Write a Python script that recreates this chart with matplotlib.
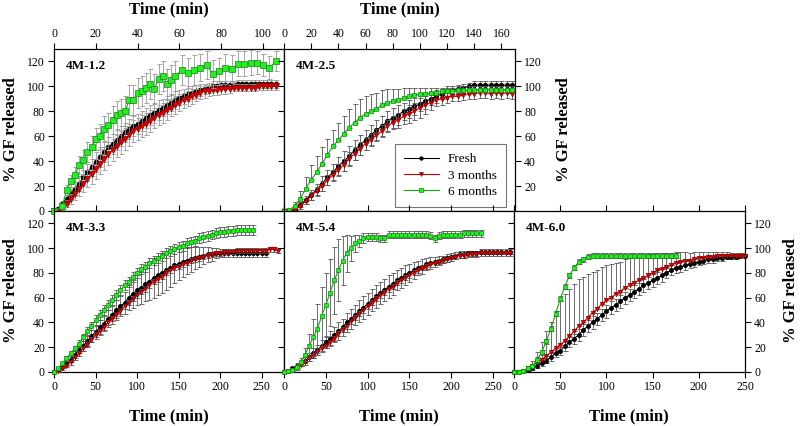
import numpy as np
import matplotlib
matplotlib.use('Agg')
import matplotlib.pyplot as plt

plt.rcParams['font.family'] = ['Liberation Serif', 'DejaVu Serif']

# ---------------- data ----------------
series_labels = ['Fresh', '3 months', '6 months']
panel_names = ['4M-1.2', '4M-2.5', '4M-3.3', '4M-5.4', '4M-6.0']

# 4M-1.2
t_12 = list(range(0, 107, 2))
fresh_12 = [0, 2, 6, 10, 14, 18, 22, 27, 31, 35,
            39, 43, 47, 51, 54, 57, 60, 63, 66, 68,
            70, 72, 75, 77, 79, 81, 83, 85, 87, 89,
            91, 92, 94, 95, 96, 97, 98, 99, 100, 100,
            101, 101, 101, 101, 102, 102, 102, 102, 102, 102,
            102, 102, 102, 102]
fresh_12_err = [0, 1, 2, 3, 4, 5, 6, 6, 7, 7,
                8, 8, 8, 8, 8, 8, 8, 8, 8, 8,
                8, 8, 8, 8, 8, 8, 7, 7, 7, 7,
                6, 6, 6, 5, 5, 5, 4, 4, 4, 4,
                3, 3, 3, 3, 3, 3, 3, 3, 3, 3,
                3, 3, 3, 3]
m3_12 = [0, 0, 3, 6, 10, 14, 18, 22, 26, 30,
         34, 38, 42, 46, 49, 52, 55, 58, 61, 64,
         66, 68, 70, 72, 75, 77, 79, 81, 83, 85,
         87, 89, 90, 92, 93, 95, 96, 96, 97, 97,
         98, 98, 98, 99, 99, 99, 99, 99, 99, 100,
         100, 100, 100, 100]
m3_12_err = [0, 1, 2, 3, 4, 5, 6, 7, 7, 8,
             8, 8, 9, 9, 9, 9, 9, 9, 9, 9,
             9, 9, 9, 9, 8, 8, 8, 8, 7, 7,
             7, 6, 6, 6, 5, 5, 5, 4, 4, 4,
             4, 4, 3, 3, 3, 3, 3, 3, 3, 3,
             3, 3, 3, 3]
t_12_m6 = [0, 4, 6, 8, 10, 12, 14, 16, 18, 20,
           22, 24, 26, 28, 30, 32, 34, 36, 38, 40,
           42, 44, 46, 48, 50, 52, 54, 56, 58, 61,
           64, 67, 70, 73, 76, 79, 82, 85, 88, 91,
           94, 97, 100, 103, 106]
m6_12 = [0, 4, 17, 24, 29, 37, 41, 47, 51, 58,
         60, 66, 69, 73, 77, 79, 80, 89, 89, 95,
         96, 99, 102, 98, 106, 108, 102, 105, 108, 113,
         111, 113, 115, 117, 110, 112, 115, 114, 118, 118,
         119, 119, 117, 115, 120]
m6_12_err = [0, 2, 4, 5, 6, 7, 8, 8, 9, 9,
             10, 10, 10, 11, 11, 11, 12, 12, 12, 12,
             12, 12, 12, 12, 12, 12, 12, 12, 12, 12,
             12, 12, 11, 11, 11, 11, 11, 11, 10, 10,
             10, 9, 9, 9, 8]

# 4M-2.5
t_25 = list(range(0, 169, 4))
fresh_25 = [0, 0, 2, 5, 9, 13, 17, 22, 27, 31,
            36, 40, 44, 49, 53, 57, 61, 65, 68, 72,
            75, 77, 80, 82, 84, 86, 88, 90, 92, 94,
            96, 97, 98, 99, 100, 101, 101, 101, 101, 101,
            101, 101, 101]
fresh_25_err = [0, 0, 1, 2, 3, 4, 5, 6, 6, 7,
                7, 8, 8, 8, 8, 8, 8, 8, 8, 8,
                8, 8, 7, 7, 7, 6, 6, 5, 5, 4,
                4, 3, 3, 3, 3, 3, 3, 3, 3, 3,
                3, 3, 3]
m3_25 = [0, 0, 1, 4, 8, 12, 16, 20, 25, 29,
         33, 37, 42, 46, 50, 54, 57, 61, 64, 68,
         71, 73, 76, 78, 80, 83, 85, 87, 89, 90,
         91, 92, 92, 93, 94, 94, 95, 95, 94, 95,
         94, 95, 94]
m3_25_err = [0, 0, 1, 2, 2, 3, 3, 4, 4, 4,
             5, 5, 5, 5, 5, 5, 5, 5, 5, 5,
             5, 6, 6, 7, 7, 8, 7, 6, 5, 5,
             4, 4, 4, 4, 4, 4, 4, 4, 4, 4,
             4, 4, 4]
m6_25 = [0, 1, 4, 10, 18, 25, 31, 38, 45, 52,
         57, 62, 67, 71, 75, 78, 80, 82, 85, 87,
         88, 89, 91, 92, 93, 94, 94, 95, 95, 96,
         96, 96, 97, 97, 97, 97, 97, 97, 97, 97,
         97, 97, 97]
m6_25_err = [0, 1, 3, 6, 9, 12, 13, 13, 13, 13,
             14, 14, 15, 15, 15, 14, 14, 13, 12, 11,
             10, 9, 8, 7, 6, 5, 5, 4, 4, 3,
             3, 3, 3, 3, 3, 3, 3, 3, 3, 3,
             3, 3, 3]

# 4M-3.3
t_33_fresh = list(range(0, 256, 5))
t_33_m3 = list(range(0, 271, 5))
t_33_m6 = list(range(0, 241, 5))
fresh_33 = [0, 2, 4, 7, 10, 14, 18, 21, 25, 29,
            32, 36, 39, 43, 46, 50, 53, 56, 60, 63,
            66, 68, 71, 73, 76, 78, 80, 82, 84, 86,
            87, 89, 90, 91, 92, 93, 94, 95, 95, 96,
            96, 96, 96, 96, 96, 96, 96, 96, 96, 96,
            96, 96]
fresh_33_err = [0, 1, 1, 2, 2, 3, 3, 4, 4, 5,
                5, 6, 6, 7, 7, 8, 8, 9, 10, 11,
                12, 13, 14, 15, 16, 16, 16, 16, 15, 14,
                13, 12, 11, 10, 9, 8, 7, 6, 5, 4,
                3, 3, 3, 3, 3, 3, 3, 3, 3, 3,
                3, 3]
m3_33 = [0, 1, 3, 5, 8, 12, 15, 19, 22, 26,
         30, 33, 36, 40, 43, 46, 49, 53, 56, 59,
         62, 65, 67, 70, 73, 75, 77, 80, 82, 84,
         85, 87, 88, 90, 91, 92, 93, 94, 95, 96,
         96, 97, 97, 97, 98, 98, 98, 98, 98, 98,
         98, 98, 99, 99, 98]
m3_33_err = [0, 1, 1, 1, 2, 2, 2, 2, 2, 2,
             2, 2, 2, 2, 2, 2, 2, 2, 2, 2,
             2, 2, 2, 2, 2, 2, 2, 2, 2, 2,
             2, 2, 2, 2, 2, 2, 2, 2, 2, 2,
             2, 2, 2, 2, 2, 2, 2, 2, 2, 2,
             2, 2, 2, 2, 2]
m6_33 = [0, 3, 7, 11, 15, 19, 23, 28, 33, 37,
         42, 46, 50, 54, 58, 62, 66, 70, 73, 77,
         80, 83, 85, 88, 90, 92, 94, 96, 98, 99,
         101, 102, 104, 105, 106, 108, 109, 110, 111, 112,
         113, 113, 114, 114, 115, 115, 115, 115, 115]
m6_33_err = [0, 1, 1, 2, 2, 2, 3, 3, 3, 3,
             4, 4, 4, 4, 4, 4, 4, 4, 4, 4,
             4, 4, 4, 4, 4, 4, 4, 4, 4, 4,
             4, 4, 4, 4, 4, 4, 4, 4, 4, 4,
             4, 4, 4, 4, 4, 4, 4, 4, 4]

# 4M-5.4
t_54 = list(range(0, 271, 5))
t_54_m6 = list(range(0, 236, 5))
fresh_54 = [0, 1, 3, 5, 7, 9, 12, 15, 18, 21,
            24, 27, 30, 33, 36, 40, 43, 46, 49, 52,
            55, 58, 61, 64, 66, 69, 71, 74, 76, 78,
            80, 82, 84, 85, 87, 88, 89, 90, 91, 92,
            93, 94, 95, 95, 96, 96, 96, 97, 97, 97,
            97, 97, 97, 97, 97]
fresh_54_err = [0, 1, 1, 2, 2, 3, 3, 4, 4, 5,
                5, 6, 6, 7, 7, 8, 8, 8, 9, 9,
                9, 9, 9, 9, 9, 9, 9, 8, 8, 8,
                7, 7, 6, 6, 5, 5, 4, 4, 3, 3,
                3, 3, 3, 3, 2, 2, 2, 2, 2, 2,
                2, 2, 2, 2, 2]
m3_54 = [0, 1, 2, 4, 6, 8, 11, 13, 16, 19,
         21, 24, 27, 31, 34, 37, 41, 44, 47, 50,
         53, 56, 59, 62, 64, 67, 69, 72, 74, 76,
         78, 80, 82, 84, 85, 87, 88, 89, 90, 91,
         92, 93, 94, 94, 95, 95, 95, 96, 96, 96,
         96, 96, 96, 96, 96]
m3_54_err = [0, 1, 1, 1, 1, 1, 2, 2, 2, 2,
             2, 2, 2, 2, 2, 2, 2, 2, 2, 2,
             2, 2, 2, 2, 2, 2, 2, 2, 2, 2,
             2, 2, 2, 2, 2, 2, 2, 2, 2, 2,
             2, 2, 2, 2, 2, 2, 2, 2, 2, 2,
             2, 2, 2, 2, 2]
m6_54 = [0, 1, 2, 4, 8, 14, 21, 28, 35, 45,
         54, 64, 74, 82, 90, 96, 100, 104, 106, 108,
         109, 109, 109, 108, 108, 111, 111, 111, 111, 111,
         111, 111, 111, 111, 111, 110, 108, 110, 111, 111,
         111, 111, 111, 112, 112, 112, 112, 112]
m6_54_err = [0, 1, 1, 2, 3, 5, 10, 15, 20, 24,
             26, 27, 27, 25, 20, 15, 10, 7, 5, 4,
             3, 3, 3, 3, 3, 3, 3, 3, 3, 3,
             3, 3, 3, 3, 3, 3, 3, 3, 3, 3,
             3, 3, 3, 3, 3, 3, 3, 3]

# 4M-6.0
t_60 = list(range(0, 251, 5))
t_60_m6 = list(range(0, 176, 5))
fresh_60 = [0, 0, 1, 2, 3, 5, 7, 9, 12, 15,
            17, 21, 24, 27, 30, 34, 37, 40, 43, 46,
            49, 52, 54, 57, 60, 62, 65, 67, 70, 72,
            74, 76, 78, 80, 82, 84, 85, 86, 87, 88,
            89, 90, 91, 91, 92, 92, 93, 93, 93, 94,
            94]
fresh_60_err = [0, 0, 1, 1, 1, 2, 2, 2, 3, 3,
                3, 4, 4, 4, 5, 5, 5, 5, 5, 5,
                5, 5, 5, 5, 5, 5, 5, 5, 5, 5,
                5, 5, 5, 4, 4, 4, 4, 4, 3, 3,
                3, 3, 3, 3, 2, 2, 2, 2, 2, 2,
                2]
m3_60 = [0, 0, 1, 3, 5, 8, 10, 13, 16, 19,
         22, 25, 29, 33, 37, 40, 44, 48, 51, 55,
         58, 60, 63, 65, 68, 70, 72, 74, 76, 78,
         80, 82, 83, 85, 86, 88, 89, 90, 90, 91,
         92, 92, 93, 93, 94, 94, 94, 94, 94, 94,
         94]
m3_60_err = [0, 0, 1, 2, 4, 8, 14, 20, 24, 30,
             36, 38, 38, 38, 38, 37, 35, 33, 31, 30,
             28, 27, 25, 24, 23, 22, 21, 19, 18, 17,
             15, 14, 13, 11, 10, 9, 8, 7, 6, 6,
             5, 5, 4, 4, 3, 3, 3, 2, 2, 2,
             2]
m6_60 = [0, 0, 1, 3, 5, 10, 16, 25, 35, 47,
         59, 69, 78, 84, 89, 91, 93, 94, 94, 94,
         94, 94, 94, 94, 94, 94, 94, 94, 94, 94,
         94, 94, 94, 94, 94, 94]
m6_60_err = [0, 0, 1, 1, 1, 2, 2, 2, 2, 2,
             2, 2, 2, 2, 2, 2, 2, 2, 2, 2,
             2, 2, 2, 2, 2, 2, 2, 2, 2, 2,
             2, 2, 2, 2, 2, 2]

# ---------------- styling ----------------
styles = [
    dict(color='black', marker='o', mfc='black', mec='black'),
    dict(color='#cc0000', marker='v', mfc='#dd0000', mec='#880000'),
    dict(color='#11aa11', marker='s', mfc='#22ee22', mec='#118811'),
]


def draw(ax, t, y, err, k, ecolor, ms, upper=False):
    err = np.asarray(err, dtype=float)
    yerr = [np.zeros_like(err), err] if upper else err
    ax.errorbar(t, y, yerr=yerr, fmt='none', ecolor=ecolor, elinewidth=0.6,
                capsize=1.8, capthick=0.6, zorder=2 + k)
    st = styles[k]
    ax.plot(t, y, color=st['color'], lw=0.8, marker=st['marker'], ms=ms,
            mfc=st['mfc'], mec=st['mec'], mew=0.5, label=series_labels[k],
            zorder=3 + k, clip_on=False)


def setup(ax, xmax, xticks, name, left=False, right=False, top=False,
          bottom=False, skip_zero=False):
    ax.set_xlim(0, xmax)
    ax.set_ylim(0, 130)
    ax.set_xticks(xticks)
    yt = list(range(0, 121, 20))
    ylab = [str(v) for v in yt]
    if skip_zero:
        ylab[0] = ''
    ax.set_yticks(yt, labels=ylab)
    ax.tick_params(direction='out', length=4, width=0.8, labelsize=8.5,
                   top=True, right=True, bottom=True, left=True,
                   labeltop=top, labelbottom=bottom, labelleft=left,
                   labelright=right, pad=2.5)
    for s in ax.spines.values():
        s.set_linewidth(0.9)
    ax.text(0.05, 0.93, name, transform=ax.transAxes, fontsize=9.5,
            fontweight='bold', va='top', ha='left')


fig = plt.figure(figsize=(8, 4.26), dpi=100)
W, H = 800.0, 426.0


def box(x0, x1, y0, y1):
    return [x0 / W, 1 - y1 / H, (x1 - x0) / W, (y1 - y0) / H]


ax1 = fig.add_axes(box(54, 284, 49, 211))
ax2 = fig.add_axes(box(284, 515, 49, 211))
ax3 = fig.add_axes(box(54, 284, 211, 372))
ax4 = fig.add_axes(box(284, 514, 211, 372))
ax5 = fig.add_axes(box(514, 745, 211, 372))

grey = '#999999'
dark = '#555555'

# 4M-1.2
draw(ax1, t_12, fresh_12, fresh_12_err, 0, grey, 3.5)
draw(ax1, t_12, m3_12, m3_12_err, 1, grey, 3.8)
draw(ax1, t_12_m6, m6_12, m6_12_err, 2, grey, 3.8)
setup(ax1, 110, range(0, 101, 20), panel_names[0], left=True, top=True)

# 4M-2.5
draw(ax2, t_25, fresh_25, fresh_25_err, 0, dark, 3.2)
draw(ax2, t_25, m3_25, m3_25_err, 1, dark, 3.5)
draw(ax2, t_25, m6_25, m6_25_err, 2, dark, 3.5, upper=True)
setup(ax2, 170, range(0, 161, 20), panel_names[1], right=True, top=True,
      skip_zero=True)
leg = ax2.legend(loc='lower right', bbox_to_anchor=(0.961, 0.025),
                 borderaxespad=0, fontsize=9.5, frameon=True, fancybox=False,
                 edgecolor='#555555', handlelength=2.6, borderpad=0.7,
                 labelspacing=0.3, handletextpad=0.7, markerscale=0.8)
leg.get_frame().set_linewidth(0.8)

# 4M-3.3
draw(ax3, t_33_fresh, fresh_33, fresh_33_err, 0, dark, 3)
draw(ax3, t_33_m3, m3_33, m3_33_err, 1, dark, 3.2)
draw(ax3, t_33_m6, m6_33, m6_33_err, 2, dark, 3.2)
setup(ax3, 277, range(0, 251, 50), panel_names[2], left=True, bottom=True)

# 4M-5.4
draw(ax4, t_54, fresh_54, fresh_54_err, 0, dark, 3)
draw(ax4, t_54, m3_54, m3_54_err, 1, dark, 3.2)
draw(ax4, t_54_m6, m6_54, m6_54_err, 2, dark, 3.2)
setup(ax4, 275, range(0, 251, 50), panel_names[3], bottom=True)

# 4M-6.0
draw(ax5, t_60, fresh_60, fresh_60_err, 0, dark, 3)
draw(ax5, t_60, m3_60, m3_60_err, 1, dark, 3.2, upper=True)
draw(ax5, t_60_m6, m6_60, m6_60_err, 2, dark, 3.2)
setup(ax5, 250, range(0, 251, 50), panel_names[4], right=True, bottom=True)

# axis titles
lab = dict(fontsize=12, fontweight='bold', ha='center', va='center')
fig.text(169 / W, 1 - 9 / H, 'Time (min)', **lab)
fig.text(400 / W, 1 - 9 / H, 'Time (min)', **lab)
fig.text(169 / W, 1 - 416 / H, 'Time (min)', **lab)
fig.text(399 / W, 1 - 416 / H, 'Time (min)', **lab)
fig.text(629 / W, 1 - 416 / H, 'Time (min)', **lab)
fig.text(11 / W, 1 - 130 / H, '% GF released', rotation=90, **lab)
fig.text(11 / W, 1 - 291 / H, '% GF released', rotation=90, **lab)
fig.text(564 / W, 1 - 130 / H, '% GF released', rotation=90, **lab)
fig.text(791 / W, 1 - 291 / H, '% GF released', rotation=90, **lab)

fig.savefig('out.png', dpi=100)
